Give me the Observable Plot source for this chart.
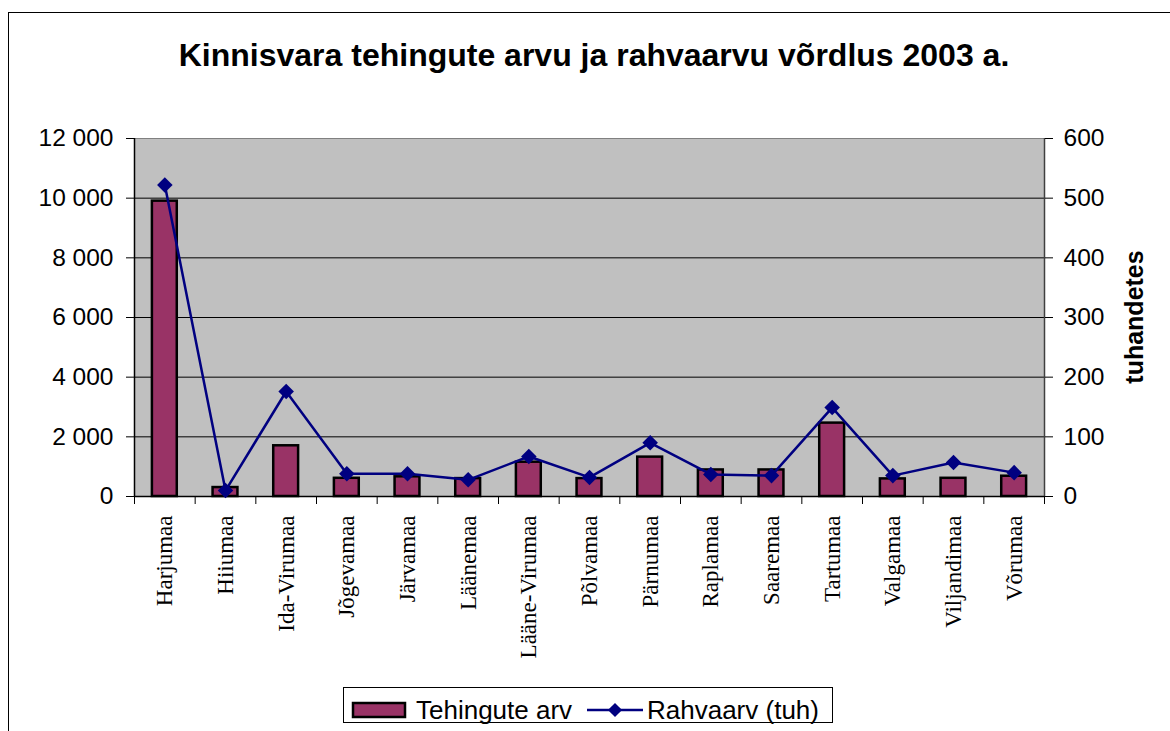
<!DOCTYPE html>
<html>
<head>
<meta charset="utf-8">
<script src="https://cdn.jsdelivr.net/npm/d3@7"></script>
<script src="https://cdn.jsdelivr.net/npm/@observablehq/plot@0.6"></script>
<style>
  html, body { margin: 0; padding: 0; background: #fff; }
  #wrap { position: relative; width: 1170px; height: 731px; overflow: hidden; font-family: "Liberation Sans", Arial, sans-serif; }
  #border { position: absolute; left: 8px; top: 12px; width: 1200px; height: 800px; border: 1.5px solid #000; box-sizing: border-box; }
  #title { position: absolute; left: 0; width: 1188px; top: 37px; text-align: center; font-weight: bold; font-size: 32px; color: #000; }
  #chart { position: absolute; left: 0; top: 0; }
  #ylab2 { position: absolute; left: 1134px; top: 317px; transform: translate(-50%, -50%) rotate(-90deg); font-weight: bold; font-size: 25px; white-space: nowrap; }
  #legend { position: absolute; left: 343px; top: 687px; width: 490px; height: 36px; border: 1px solid #000; box-sizing: border-box; background: #fff; }
</style>
</head>
<body>
<div id="wrap">
  <div id="border"></div>
  <div id="chart"></div>
  <div id="title">Kinnisvara tehingute arvu ja rahvaarvu võrdlus 2003 a.</div>
  <div id="ylab2">tuhandetes</div>
  <div id="legend"></div>
</div>
<script>
// ---- data ----
const counties = ["Harjumaa","Hiiumaa","Ida-Virumaa","Jõgevamaa","Järvamaa","Läänemaa","Lääne-Virumaa","Põlvamaa","Pärnumaa","Raplamaa","Saaremaa","Tartumaa","Valgamaa","Viljandimaa","Võrumaa"];
const tehingud = [9900, 300, 1700, 610, 660, 600, 1150, 600, 1320, 890, 890, 2460, 590, 610, 680];
const rahvaarv = [522, 10, 176, 38, 38, 28, 67, 32, 90, 37, 35, 149, 35, 57, 40];
const leftTicks = [0, 2000, 4000, 6000, 8000, 10000, 12000];
const rightTicks = [0, 100, 200, 300, 400, 500, 600];
const seriesNames = ["Tehingute arv", "Rahvaarv (tuh)"];

// ---- layout ----
const W = 1170, H = 731;
const mL = 134, mR = 126, mT = 138, mB = 235;
const step = (W - mL - mR) / counties.length;
const ratio = leftTicks[leftTicks.length - 1] / rightTicks[rightTicks.length - 1];
const barColor = "#993366", lineColor = "#000080";
const font = "Liberation Sans, Arial, sans-serif";

const rows = counties.map((c, i) => ({c, t: tehingud[i], r: rahvaarv[i]}));
const tickLen = 8 * (leftTicks[leftTicks.length - 1] / (H - mT - mB));

const chart = Plot.plot({
  width: W, height: H,
  marginLeft: mL, marginRight: mR, marginTop: mT, marginBottom: mB,
  style: {fontFamily: font, background: "transparent", overflow: "visible"},
  x: {domain: counties, paddingInner: 0.59, paddingOuter: 0.295, round: false, label: null},
  y: {domain: [0, 12000], label: null},
  marks: [
    Plot.frame({fill: "#c0c0c0", stroke: "#808080"}),
    Plot.ruleY(leftTicks.slice(1, -1), {stroke: "#000", strokeWidth: 1}),
    Plot.barY(rows, {x: "c", y: "t", fill: barColor, stroke: "#000", strokeWidth: 2.5}),
    Plot.ruleY([0], {stroke: "#000", strokeWidth: 1.5}),
    Plot.ruleX([counties[0]], {y1: 0, y2: 12000, dx: -step / 2, stroke: "#000", strokeWidth: 1.5}),
    Plot.ruleX([counties[counties.length - 1]], {y1: 0, y2: 12000, dx: step / 2, stroke: "#404040", strokeWidth: 1.5}),
    Plot.ruleX(counties, {y1: 0, y2: -tickLen, dx: -step / 2, stroke: "#000"}),
    Plot.ruleX([counties[counties.length - 1]], {y1: 0, y2: -tickLen, dx: step / 2, stroke: "#000"}),
    Plot.axisY({ticks: leftTicks, tickSize: 8, tickPadding: 13, fontSize: 24.5,
      tickFormat: d => d3.format(",")(d).replace(/,/g, " "), label: null}),
    Plot.axisY({anchor: "right", ticks: leftTicks, tickSize: 8, tickPadding: 11, fontSize: 24.5,
      tickFormat: d => String(d / ratio), label: null}),
    Plot.axisX({tickRotate: -90, tickSize: 0, tickPadding: 19, fontSize: 23,
      fontFamily: "Liberation Serif, Times New Roman, serif", label: null}),
    Plot.line(rows, {x: "c", y: d => d.r * ratio, stroke: lineColor, strokeWidth: 2.5}),
    Plot.dot(rows, {x: "c", y: d => d.r * ratio, symbol: "square", rotate: 45, r: 6.2, fill: lineColor, stroke: "none"})
  ]
});
document.getElementById("chart").appendChild(chart);

// ---- legend ----
const lg = d3.select("#legend").append("svg").attr("width", 490).attr("height", 36)
  .style("font-family", font).style("font-size", "26px");
lg.append("rect").attr("x", 9).attr("y", 15).attr("width", 52).attr("height", 14)
  .attr("fill", barColor).attr("stroke", "#000").attr("stroke-width", 2.5);
lg.append("text").attr("x", 72).attr("y", 31).text(seriesNames[0]);
lg.append("line").attr("x1", 243).attr("x2", 299).attr("y1", 22).attr("y2", 22)
  .attr("stroke", lineColor).attr("stroke-width", 2.5);
lg.append("rect").attr("x", 266).attr("y", 17).attr("width", 10).attr("height", 10)
  .attr("fill", lineColor).attr("transform", "rotate(45 271 22)");
lg.append("text").attr("x", 303).attr("y", 31).text(seriesNames[1]);
</script>
</body>
</html>
